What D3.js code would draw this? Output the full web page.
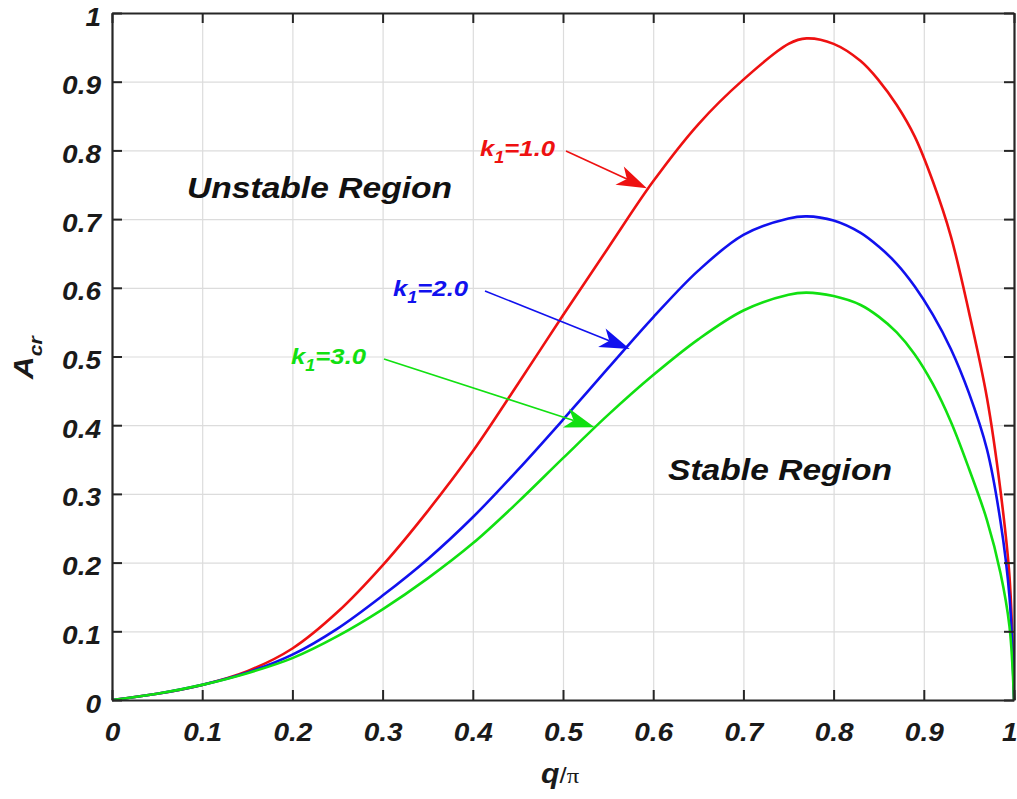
<!DOCTYPE html>
<html>
<head>
<meta charset="utf-8">
<script src="https://cdn.jsdelivr.net/npm/d3@7"></script>
<style>
  html, body { margin: 0; padding: 0; background: #fff; }
  svg { display: block; }
  .lbl { font-family: "Liberation Sans", Arial, Helvetica, sans-serif; font-weight: bold; font-style: italic; }
</style>
</head>
<body>
<svg id="chart" width="1017" height="799"></svg>
<script>
// Critical amplitude A_cr versus normalised wavenumber q/pi for three k1 values
const qValues = [0, 0.05, 0.1, 0.15, 0.2, 0.25, 0.3, 0.35, 0.4, 0.45, 0.5, 0.55, 0.6, 0.65, 0.7, 0.75, 0.77, 0.8, 0.83, 0.85, 0.87, 0.89, 0.91, 0.93, 0.95, 0.97, 0.985, 0.995, 1];
const acrK1 = [0, 0.009, 0.022, 0.042, 0.075, 0.128, 0.196, 0.275, 0.362, 0.46, 0.56, 0.658, 0.755, 0.838, 0.903, 0.955, 0.963, 0.955, 0.93, 0.902, 0.866, 0.82, 0.755, 0.675, 0.565, 0.44, 0.305, 0.18, 0];
const acrK2 = [0, 0.009, 0.022, 0.04, 0.066, 0.104, 0.152, 0.205, 0.266, 0.335, 0.408, 0.483, 0.557, 0.625, 0.677, 0.701, 0.704, 0.698, 0.68, 0.66, 0.635, 0.602, 0.561, 0.511, 0.447, 0.365, 0.26, 0.15, 0];
const acrK3 = [0, 0.009, 0.022, 0.039, 0.061, 0.093, 0.132, 0.177, 0.228, 0.288, 0.352, 0.415, 0.473, 0.525, 0.567, 0.59, 0.593, 0.588, 0.575, 0.558, 0.535, 0.503, 0.46, 0.405, 0.337, 0.262, 0.185, 0.107, 0];

const seriesNames = ["k1=1.0", "k1=2.0", "k1=3.0"];
const seriesColors = ["#ee1111", "#1111ee", "#11e011"];

const xTicks = [0, 0.1, 0.2, 0.3, 0.4, 0.5, 0.6, 0.7, 0.8, 0.9, 1];
const yTicks = [0, 0.1, 0.2, 0.3, 0.4, 0.5, 0.6, 0.7, 0.8, 0.9, 1];
const tickText = d => d === 0 ? "0" : d === 1 ? "1" : d.toFixed(1);

// annotation arrows: the curve point each arrow hits
const annQ = [0.593, 0.574, 0.535];
const annA = [0.745, 0.511, 0.397];

const svg = d3.select("#chart");
const L = 112, R = 1014, T = 13, B = 700;
const x = d3.scaleLinear().domain([0, 1]).range([L, R]);
const y = d3.scaleLinear().domain([0, 1]).range([B, T]);
const SX = 1.12; // horizontal stretch of the typeface

// grid
svg.append("g").attr("transform", `translate(0,${B})`)
  .call(d3.axisBottom(x).tickValues(xTicks.slice(1, -1)).tickSize(-(B - T)).tickFormat(""))
  .call(g => g.select(".domain").remove())
  .call(g => g.selectAll("line").attr("stroke", "#dcdcdc").attr("stroke-width", 1.2));
svg.append("g").attr("transform", `translate(${L},0)`)
  .call(d3.axisLeft(y).tickValues(yTicks.slice(1, -1)).tickSize(-(R - L)).tickFormat(""))
  .call(g => g.select(".domain").remove())
  .call(g => g.selectAll("line").attr("stroke", "#dcdcdc").attr("stroke-width", 1.2));

// curves
const allSeries = [acrK1, acrK2, acrK3];
const line = d3.line().x(d => x(d[0])).y(d => y(d[1])).curve(d3.curveCatmullRom.alpha(0.5));
allSeries.forEach((vals, i) => {
  svg.append("path")
    .datum(qValues.map((q, j) => [q, vals[j]]))
    .attr("fill", "none")
    .attr("stroke", seriesColors[i])
    .attr("stroke-width", 2.6)
    .attr("stroke-linejoin", "round")
    .attr("d", line);
});

// axes with inward ticks
const axisStyle = g => {
  g.select(".domain").attr("stroke", "#262626").attr("stroke-width", 2.2);
  g.selectAll(".tick line").attr("stroke", "#262626").attr("stroke-width", 2);
};
const bottom = svg.append("g").attr("transform", `translate(0,${B})`)
  .call(d3.axisBottom(x).tickValues(xTicks).tickSizeInner(-10).tickSizeOuter(0).tickFormat(tickText))
  .call(axisStyle);
bottom.selectAll(".tick text")
  .attr("class", "lbl").attr("y", null).attr("dy", null)
  .attr("transform", d => d === 1 ? `translate(3,41) scale(${SX},1)` : `translate(0,41) scale(${SX},1)`)
  .attr("text-anchor", d => d === 1 ? "end" : "middle")
  .attr("font-size", 25).attr("fill", "#1a1a1a");

const left = svg.append("g").attr("transform", `translate(${L},0)`)
  .call(d3.axisLeft(y).tickValues(yTicks).tickSizeInner(-10).tickSizeOuter(0).tickFormat(tickText))
  .call(axisStyle);
left.selectAll(".tick text")
  .attr("class", "lbl").attr("x", null).attr("dy", null)
  .attr("transform", `translate(-11,12) scale(${SX},1)`)
  .attr("text-anchor", "end")
  .attr("font-size", 25).attr("fill", "#1a1a1a");

svg.append("g").attr("transform", `translate(0,${T})`)
  .call(d3.axisTop(x).tickValues(xTicks).tickSizeInner(-10).tickSizeOuter(0).tickFormat(""))
  .call(axisStyle);
svg.append("g").attr("transform", `translate(${R},0)`)
  .call(d3.axisRight(y).tickValues(yTicks).tickSizeInner(-10).tickSizeOuter(0).tickFormat(""))
  .call(axisStyle);

// region labels
const regionText = (label, px, py) => svg.append("text").attr("class", "lbl")
  .attr("transform", `translate(${px},${py}) scale(${SX},1)`)
  .attr("font-size", 30).attr("fill", "#111").text(label);
regionText("Unstable Region", 187, 198);
regionText("Stable Region", 668, 480);

// k1 annotations with arrows
const labelPos = [[480, 156], [393, 296], [291, 364]];
const lineStart = [[566, 151], [485, 291], [384, 359]];
seriesNames.forEach((name, i) => {
  const c = seriesColors[i];
  const t = svg.append("text").attr("class", "lbl")
    .attr("transform", `translate(${labelPos[i][0]},${labelPos[i][1]}) scale(${SX},1)`)
    .attr("font-size", 23).attr("fill", c);
  t.append("tspan").text("k");
  t.append("tspan").attr("font-size", 16).attr("dy", 7).text("1");
  t.append("tspan").attr("dy", -7).text(name.slice(2));

  const [sx, sy] = lineStart[i];
  const tx = x(annQ[i]), ty = y(annA[i]);
  const ang = Math.atan2(ty - sy, tx - sx);
  const len = 30, hw = 10, notch = 8;
  const ux = Math.cos(ang), uy = Math.sin(ang), nx = -uy, ny = ux;
  const bx = tx - ux * len, by = ty - uy * len;
  svg.append("line")
    .attr("x1", sx).attr("y1", sy)
    .attr("x2", tx - ux * (len - notch)).attr("y2", ty - uy * (len - notch))
    .attr("stroke", c).attr("stroke-width", 1.6);
  svg.append("path")
    .attr("d", `M${tx},${ty} L${bx + nx * hw},${by + ny * hw} L${tx - ux * (len - notch)},${ty - uy * (len - notch)} L${bx - nx * hw},${by - ny * hw} Z`)
    .attr("fill", c);
});

// axis titles
const xt = svg.append("text").attr("transform", `translate(541,783) scale(${SX},1)`).attr("fill", "#1a1a1a");
xt.append("tspan").attr("class", "lbl").attr("font-size", 27).text("q");
xt.append("tspan").attr("font-family", "Liberation Sans, Arial, sans-serif").attr("font-size", 23).text("/");
xt.append("tspan").attr("font-family", "Liberation Serif, Times New Roman, serif").attr("font-size", 22).text("π");

const yt = svg.append("text").attr("class", "lbl")
  .attr("transform", `translate(33,379) rotate(-90) scale(${SX},1)`).attr("fill", "#1a1a1a");
yt.append("tspan").attr("font-size", 28).text("A");
yt.append("tspan").attr("font-size", 19).attr("dy", 9).text("cr");
</script>
</body>
</html>
